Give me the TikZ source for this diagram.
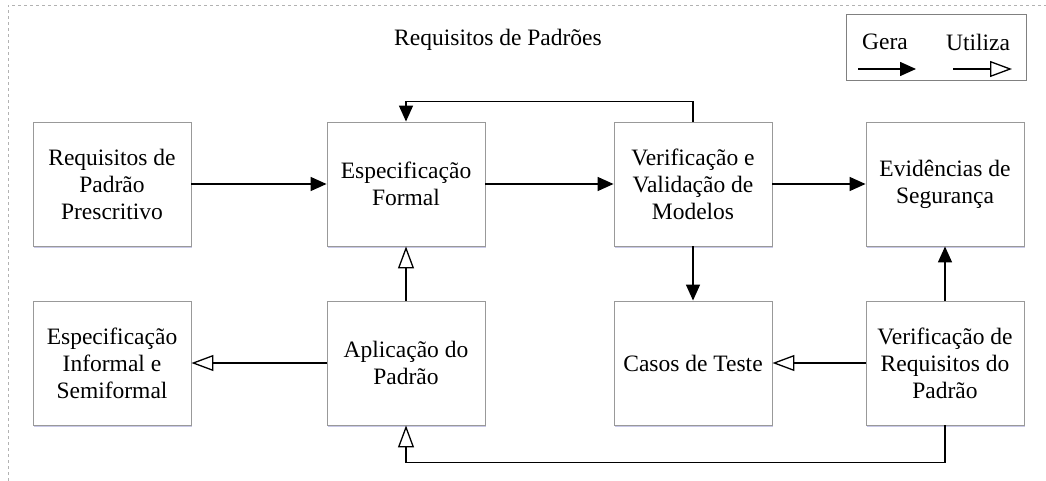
\documentclass[tikz,border=0pt]{standalone}
\usepackage{fontspec}
\setmainfont{Liberation Serif}
\usetikzlibrary{arrows.meta,shadows}
\tikzset{
  boxnode/.style={draw=black!40, line width=0.9pt, fill=white, minimum width=158pt, minimum height=124pt,
    align=center, inner sep=2pt, font=\fontsize{23.5}{27}\selectfont,
    drop shadow={shadow xshift=1.2pt, shadow yshift=-1.5pt, fill=blue!40!gray, opacity=0.3}},
  gera/.style={line width=1.5pt, -{Triangle[length=16pt,width=14pt]}},
  utiliza/.style={line width=1.5pt, -{Triangle[open,length=22pt,width=16pt,line width=1.3pt]}},
  txt/.style={font=\fontsize{23.5}{27}\selectfont, inner sep=0pt}
}
\begin{document}
\begin{tikzpicture}[x=1pt,y=-1pt]
\useasboundingbox (0,0) rectangle (1046,481);
\draw[black!30, dashed, line width=0.6pt] (8,481) -- (8,5) -- (1046,5);
\node[txt] (title) at (498,40) {Requisitos de Padrões};
% legend
\node[draw=black!50, line width=0.8pt, minimum width=180pt, minimum height=66pt, inner sep=0pt] (legend) at (936,47) {};
\node[txt] (lgera) at (885,42) {Gera};
\node[txt] (lutil) at (978,42) {Utiliza};
\coordinate (g1) at (858,69); \coordinate (g2) at (916,69);
\coordinate (u1) at (953,69); \coordinate (u2) at (1012,69);
\draw[gera] (g1) -- (g2);
\draw[utiliza] (u1) -- (u2);
% boxes
\node[boxnode] (b1) at (112,184) {Requisitos de\\Padrão\\Prescritivo};
\node[boxnode] (b2) at (406,184) {Especificação\\Formal};
\node[boxnode] (b3) at (693,184) {Verificação e\\Validação de\\Modelos};
\node[boxnode] (b4) at (945,184) {Evidências de\\Segurança};
\node[boxnode] (b5) at (112,363) {Especificação\\Informal e\\Semiformal};
\node[boxnode] (b6) at (406,363) {Aplicação do\\Padrão};
\node[boxnode] (b7) at (693,363) {Casos de Teste};
\node[boxnode] (b8) at (945,363) {Verificação de\\Requisitos do\\Padrão};
% connectors
\draw[gera] (b1) -- (b2);
\draw[gera] (b2) -- (b3);
\draw[gera] (b3) -- (b4);
\draw[gera] (b3) -- (b7);
\draw[gera] (b8) -- (b4);
\draw[utiliza] (b8) -- (b7);
\draw[utiliza] (b6) -- (b5);
\draw[utiliza] (b6) -- (b2);
\draw[gera] (b3.north) -- ++(0,-20) -| (b2.north);
\draw[utiliza] (b8.south) -- ++(0,37) -| (b6.south);
\end{tikzpicture}
\end{document}
